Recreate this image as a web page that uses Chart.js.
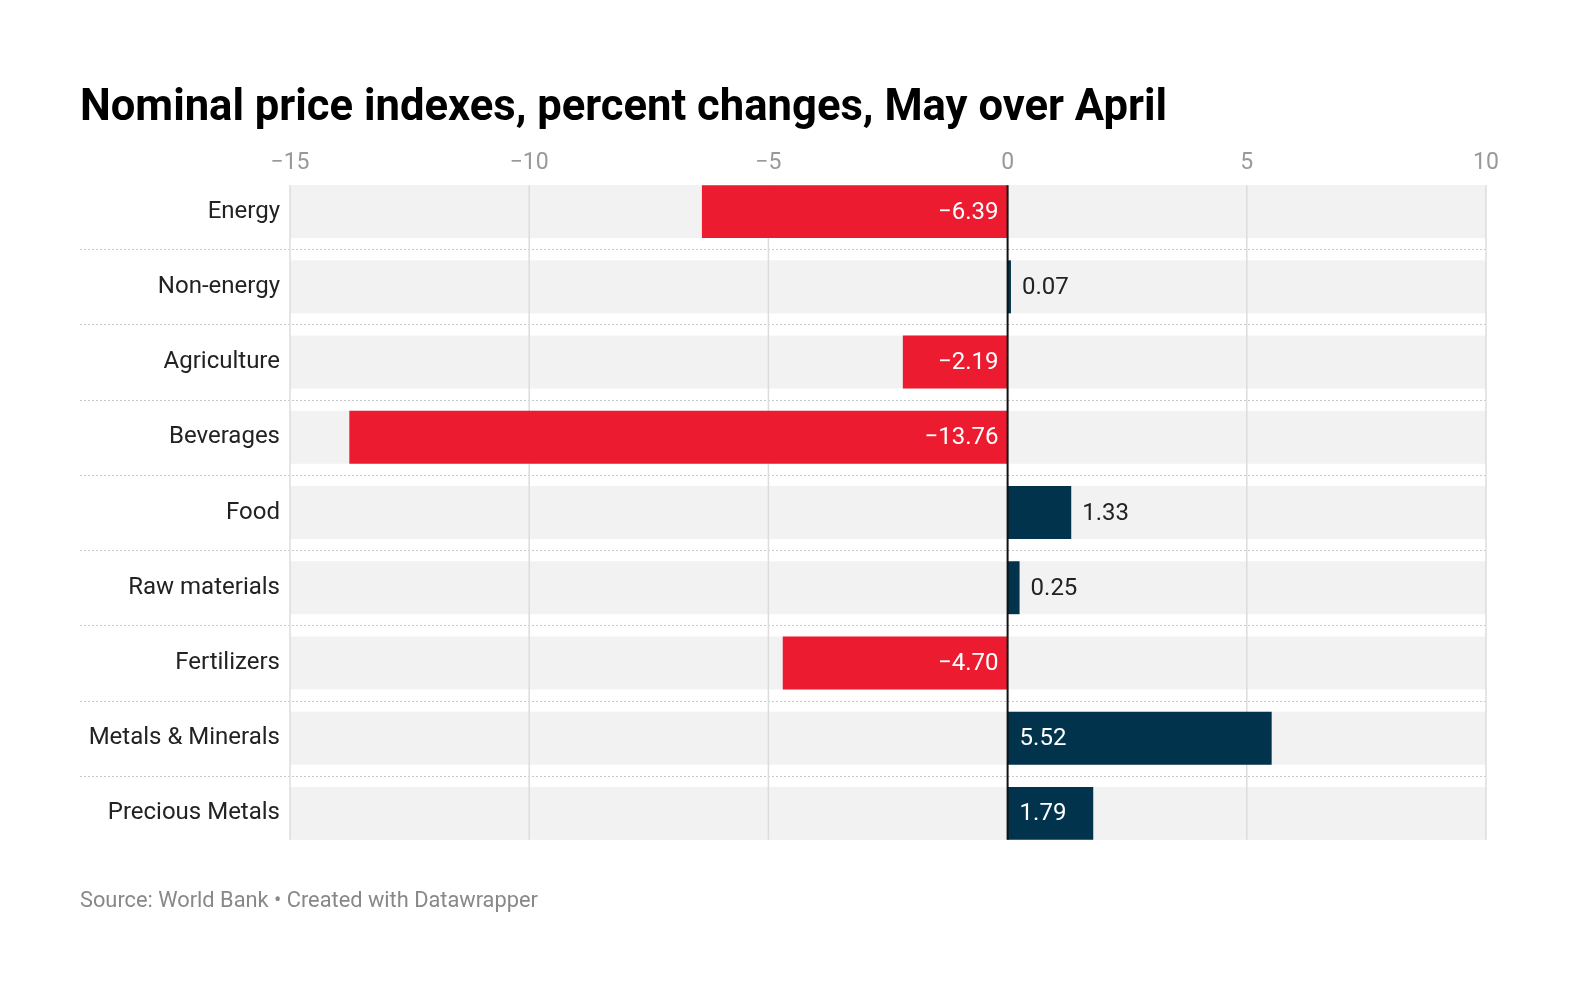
<!DOCTYPE html>
<html>
<head>
<meta charset="utf-8">
<script src="https://cdn.jsdelivr.net/npm/chart.js@4"></script>
<style>
  html, body { margin: 0; padding: 0; background: #fff; overflow: hidden; }
  body { width: 1580px; height: 994px; position: relative; font-family: Roboto, "Noto Sans", sans-serif; }
  #chart { position: absolute; left: 0; top: 0; width: 1580px; height: 994px; }
  .title { position: absolute; left: 80px; top: 84px; font-size: 43.6px; line-height: 44px; font-weight: 700; color: #000; white-space: nowrap; }
  .footer { position: absolute; left: 80px; top: 889px; font-size: 21.8px; line-height: 22px; color: #888; white-space: nowrap; }
</style>
</head>
<body>
<canvas id="chart" width="1580" height="994"></canvas>
<div class="title">Nominal price indexes, percent changes, May over April</div>
<div class="footer">Source: World Bank • Created with Datawrapper</div>
<script>
(function () {

  const categories = ["Energy", "Non-energy", "Agriculture", "Beverages", "Food", "Raw materials", "Fertilizers", "Metals & Minerals", "Precious Metals"];
  const changes = [-6.39, 0.07, -2.19, -13.76, 1.33, 0.25, -4.70, 5.52, 1.79];
  const axisMin = -15;
  const axisMax = 10;
  const axisStep = 5;

  const RED = "#ed1b2f";
  const NAVY = "#01334c";
  const FONT = "Roboto, 'Noto Sans', sans-serif";

  function minus(text) {
    return String(text).replace("-", "\u2212");
  }

  function barRects(chart) {
    return chart.getDatasetMeta(0).data.map(function (bar) {
      const p = bar.getProps(["x", "y", "base", "height"], true);
      return { x: p.x, y: p.y, base: p.base, top: p.y - p.height / 2, bottom: p.y + p.height / 2 };
    });
  }

  const decorations = {
    id: "decorations",
    beforeDraw: function (chart) {
      const ctx = chart.ctx;
      const area = chart.chartArea;
      const rects = barRects(chart);
      ctx.save();
      // row bands
      ctx.fillStyle = "#f2f2f2";
      rects.forEach(function (r) {
        ctx.fillRect(area.left, r.top, area.right - area.left, r.bottom - r.top);
      });
      // dotted separators between rows
      ctx.strokeStyle = "#c8c8c8";
      ctx.lineWidth = 1;
      ctx.setLineDash([2, 2]);
      for (let i = 0; i < rects.length - 1; i++) {
        const y = Math.round((rects[i].bottom + rects[i + 1].top) / 2) + 0.5;
        ctx.beginPath();
        ctx.moveTo(80, y);
        ctx.lineTo(area.right, y);
        ctx.stroke();
      }
      ctx.setLineDash([]);
      // vertical gridlines
      const xScale = chart.scales.x;
      const top = rects[0].top;
      const bottom = rects[rects.length - 1].bottom;
      ctx.strokeStyle = "#dcdcdc";
      ctx.lineWidth = 1.5;
      xScale.ticks.forEach(function (tick) {
        if (tick.value === 0) return;
        const x = xScale.getPixelForValue(tick.value);
        ctx.beginPath();
        ctx.moveTo(x, top);
        ctx.lineTo(x, bottom);
        ctx.stroke();
      });
      ctx.restore();
    },
    afterDatasetsDraw: function (chart) {
      const ctx = chart.ctx;
      const rects = barRects(chart);
      const xScale = chart.scales.x;
      const zero = xScale.getPixelForValue(0);
      ctx.save();
      // zero line
      ctx.strokeStyle = "#111";
      ctx.lineWidth = 2;
      ctx.beginPath();
      ctx.moveTo(zero, rects[0].top);
      ctx.lineTo(zero, rects[rects.length - 1].bottom);
      ctx.stroke();
      // value labels
      ctx.font = "24px " + FONT;
      ctx.textBaseline = "middle";
      rects.forEach(function (r, i) {
        const value = changes[i];
        const text = minus(value.toFixed(2));
        const textWidth = ctx.measureText(text).width;
        const barWidth = Math.abs(r.x - r.base);
        const y = r.y + 1;
        if (value < 0) {
          ctx.fillStyle = "#fff";
          ctx.textAlign = "right";
          ctx.fillText(text, zero - 9, y);
        } else if (barWidth >= textWidth + 30) {
          ctx.fillStyle = "#fff";
          ctx.textAlign = "left";
          ctx.fillText(text, zero + 12, y);
        } else {
          ctx.fillStyle = "#222";
          ctx.textAlign = "left";
          ctx.fillText(text, r.x + 11, y);
        }
      });
      ctx.restore();
    }
  };

  const canvas = document.getElementById("chart");
  new Chart(canvas, {
    type: "bar",
    data: {
      labels: categories,
      datasets: [{
        data: changes,
        backgroundColor: changes.map(v => v < 0 ? RED : NAVY),
        borderWidth: 0,
        barPercentage: 0.704,
        categoryPercentage: 1
      }]
    },
    options: {
      indexAxis: "y",
      responsive: false,
      devicePixelRatio: 1,
      animation: false,
      layout: { padding: { left: 80, right: 94, top: 140, bottom: 143 } },
      plugins: { legend: { display: false }, tooltip: { enabled: false }, title: { display: false } },
      scales: {
        x: {
          position: "top",
          min: axisMin,
          max: axisMax,
          grid: { display: false, drawTicks: false },
          border: { display: false },
          ticks: {
            stepSize: axisStep,
            padding: -3,
            color: "#999",
            font: { family: FONT, size: 23 },
            callback: value => minus(value)
          },
          afterFit: scale => { scale.height = 34; }
        },
        y: {
          grid: { display: false, drawTicks: false },
          border: { display: false },
          ticks: {
            padding: 10,
            color: "#222",
            font: { family: FONT, size: 24 }
          },
          afterFit: scale => { scale.width = 210; }
        }
      }
    },
    plugins: [decorations]
  });

})();
</script>
</body>
</html>
